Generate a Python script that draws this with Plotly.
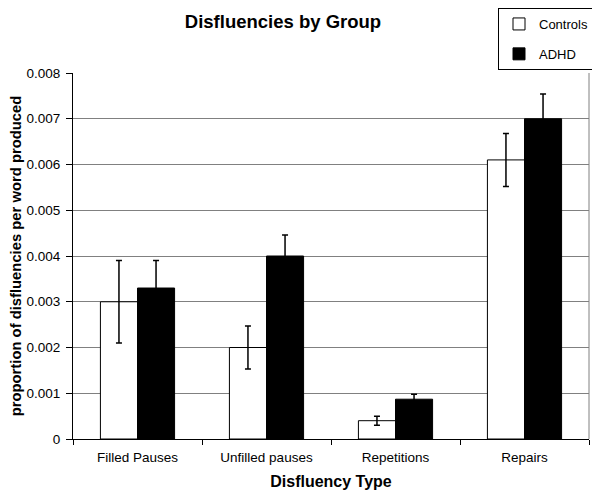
import plotly.graph_objects as go

categories = ["Filled Pauses", "Unfilled pauses", "Repetitions", "Repairs"]
controls = [0.0030, 0.0020, 0.0004, 0.0061]
controls_err = [0.0009, 0.00047, 0.0001, 0.00058]
adhd = [0.0033, 0.0040, 0.00087, 0.0070]
adhd_err = [0.0006, 0.00046, 0.00011, 0.00054]
yticks = [0, 0.001, 0.002, 0.003, 0.004, 0.005, 0.006, 0.007, 0.008]
yticklabels = ["0", "0.001", "0.002", "0.003", "0.004", "0.005", "0.006", "0.007", "0.008"]

FONT = "Liberation Sans, Arial, sans-serif"

# page body has an 8px margin; figure coordinates are screen coordinates minus 8
OFF = 8
W, H = 600 - OFF, 495 - OFF
L, R, T, B = 73 - OFF, 589 - OFF, 73 - OFF, 439 - OFF

fig = go.Figure()
fig.add_trace(go.Bar(
    name="Controls", x=categories, y=controls,
    marker=dict(color="white", line=dict(color="black", width=1)),
    error_y=dict(type="data", array=controls_err, visible=True, color="black", thickness=1.5, width=3),
    legendgroup="c",
))
fig.add_trace(go.Bar(
    name="ADHD", x=categories, y=adhd,
    marker=dict(color="black", line=dict(color="black", width=1)),
    error_y=dict(type="data", array=adhd_err, visible=True, color="black", thickness=1.5, width=3),
    legendgroup="a",
))

fig.update_layout(
    width=W, height=H,
    paper_bgcolor="white", plot_bgcolor="white",
    margin=dict(l=L, r=W - R, t=T, b=H - B, autoexpand=False),
    barmode="group", bargap=0.425, bargroupgap=0,
    font=dict(family=FONT, size=13, color="black"),
    title=dict(text="<b>Disfluencies by Group</b>", x=(283 - OFF) / W, xanchor="center",
               yref="container", y=1 - (22 - OFF) / H, yanchor="middle",
               font=dict(size=18.5, family=FONT)),
    legend=dict(xref="container", yref="container", x=(498 - OFF) / W, xanchor="left",
                y=1.0, yanchor="top",
                bordercolor="black", borderwidth=1, bgcolor="white",
                font=dict(size=13, family=FONT), tracegroupgap=10,
                itemwidth=30),
    showlegend=True,
)

fig.update_xaxes(
    automargin=False,
    showline=True, linecolor="black", linewidth=1,
    ticks="outside", tickson="boundaries", ticklen=5, tickcolor="black",
    ticklabelstandoff=6,
    title=dict(text="<b>Disfluency Type</b>", font=dict(size=16, family=FONT), standoff=11),
    tickfont=dict(size=13.5), showgrid=False,
)
fig.update_yaxes(
    automargin=False,
    range=[0, 0.008], tickvals=yticks, ticktext=yticklabels,
    showline=True, linecolor="black", linewidth=1,
    ticks="outside", ticklen=6, tickcolor="black",
    ticklabelstandoff=3,
    showgrid=True, gridcolor="#808080", gridwidth=1, zeroline=False,
    title=dict(text="<b>proportion of disfluencies per word produced</b>",
               font=dict(size=14.8, family=FONT), standoff=7),
    tickfont=dict(size=13.5),
)

# right border of plot area
fig.add_shape(type="line", xref="paper", yref="paper", x0=1, x1=1, y0=0, y1=1,
              line=dict(color="#808080", width=1))

fig.write_html("out.html")
